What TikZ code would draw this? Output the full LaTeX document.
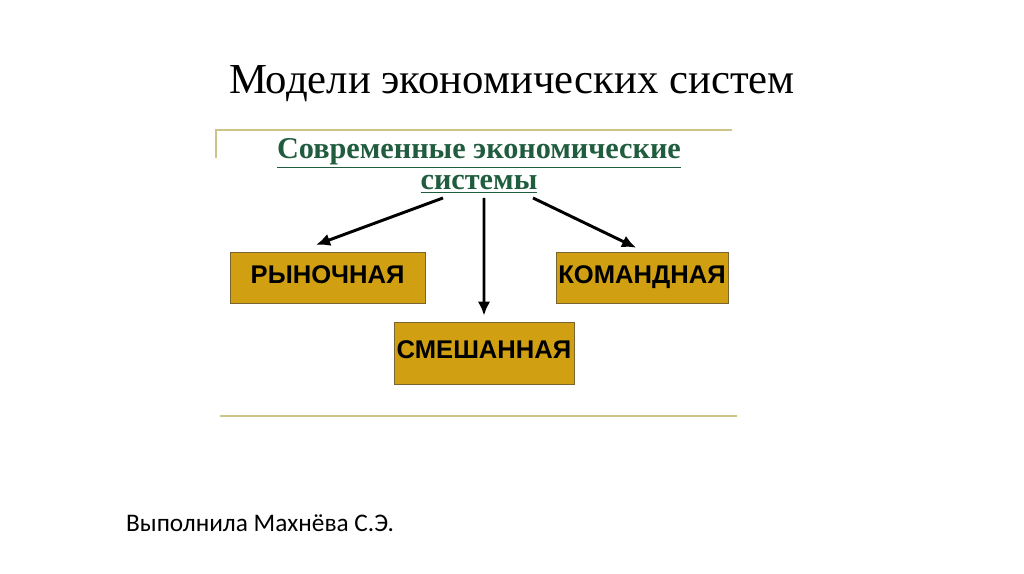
\documentclass[tikz,border=0pt]{standalone}
\usepackage{fontspec}
\setmainfont{Liberation Serif}
\newfontfamily\boxfont{Liberation Sans}
\newfontfamily\authorfont{Carlito}
\usetikzlibrary{arrows.meta}

\definecolor{ochre}{RGB}{208,160,18}
\definecolor{ochreline}{RGB}{122,100,50}
\definecolor{rulegold}{RGB}{205,196,135}
\definecolor{headgreen}{RGB}{32,92,62}

\begin{document}
\begin{tikzpicture}
\tikzstyle{every node} = [rectangle]
\tikzstyle{kind} = [draw=ochreline, line width=0.6pt, fill=ochre, font=\boxfont\bfseries\fontsize{18.2}{20}\selectfont, inner sep=0pt, text height=0.72em, text depth=0pt]
\tikzstyle{branch} = [-{Latex[length=10pt,width=9pt]}, line width=2.1pt]
\tikzstyle{goldrule} = [draw=rulegold, line width=1.5pt]

\useasboundingbox (0,0) rectangle (25.6,14.35);

\node (title) at (12.8, 12.25) {\fontsize{30.4}{36}\selectfont Модели экономических систем};
\node[text=headgreen, align=center, font=\bfseries\fontsize{21.5}{22}\selectfont] (head) at (11.975, 10.2)
  {\underline{Современные экономические}\\[0pt] \underline{системы}};

\node[kind, minimum width=4.875cm, minimum height=1.275cm] (market) at (8.19, 7.39) {РЫНОЧНАЯ};
\node[kind, minimum width=4.3cm, minimum height=1.275cm] (command) at (16.05, 7.39) {КОМАНДНАЯ};
\node[kind, minimum width=4.5cm, minimum height=1.55cm] (mixed) at (12.1, 5.525) {СМЕШАННАЯ};

\node[anchor=west, font=\authorfont\fontsize{18}{22}\selectfont] (author) at (3.03, 1.275) {Выполнила Махнёва С.Э.};

% rules of the frame
\draw[goldrule] (5.4, 10.4) -- (5.4, 11.1) -- (18.3, 11.1);
\draw[goldrule] (5.5, 3.95) -- (18.425, 3.95);

\draw[branch] ([xshift=-0.9cm]head.south) -- ([xshift=-0.29cm, yshift=0.19cm]market.north);
\draw[branch] ([xshift=0.125cm]head.south) -- ([yshift=0.15cm]mixed.north);
\draw[branch] ([xshift=1.35cm]head.south) -- ([xshift=-0.15cm, yshift=0.12cm]command.north);
\end{tikzpicture}
\end{document}
